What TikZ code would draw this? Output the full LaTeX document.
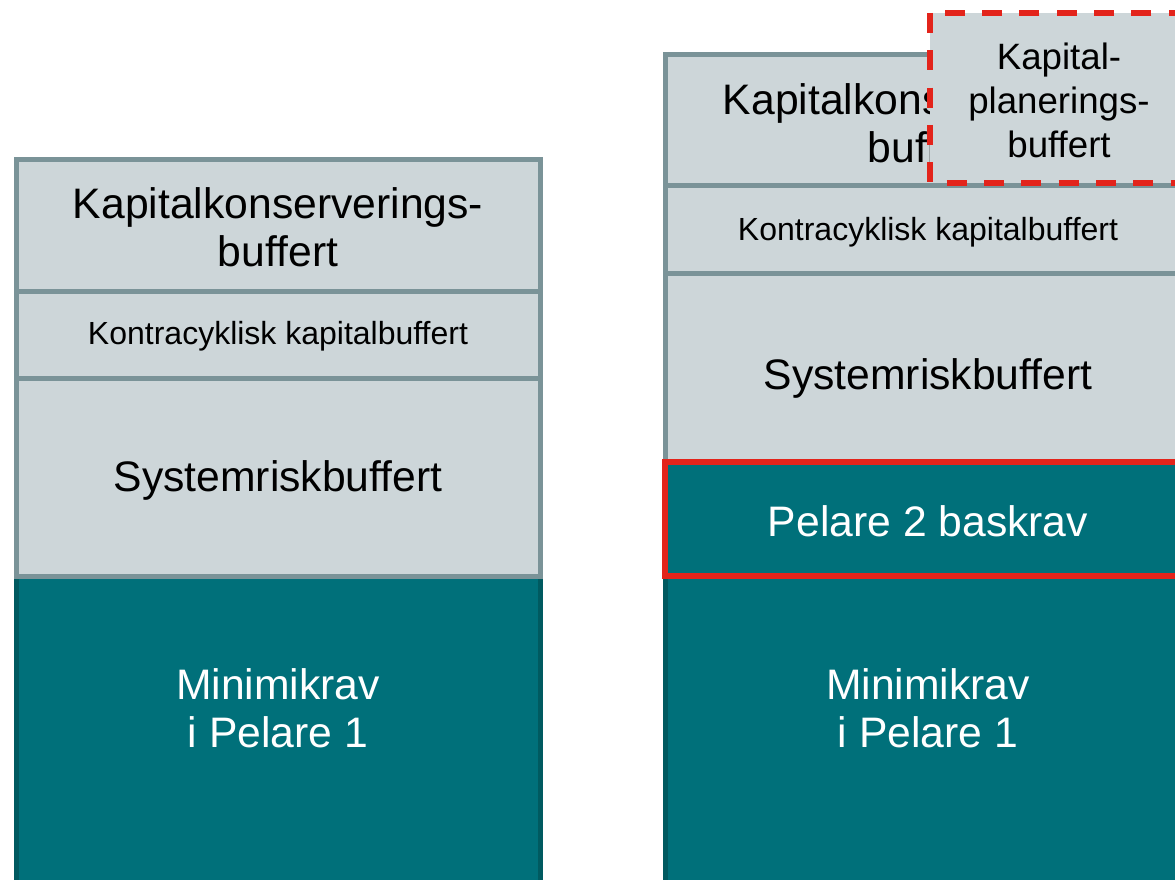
\documentclass[tikz,border=0pt]{standalone}
\usepackage{fontspec}
\setmainfont{Liberation Sans}
\definecolor{lightfill}{HTML}{CDD6D9}
\definecolor{lightline}{HTML}{7A9398}
\definecolor{darkfill}{HTML}{00707A}
\definecolor{darkline}{HTML}{005A60}
\definecolor{markred}{HTML}{E3241B}
\begin{document}
\begin{tikzpicture}[x=0.75pt,y=-0.75pt,
    lightbox/.style={draw=lightline,fill=lightfill,line width=3.75pt},
    darkbox/.style={draw=darkline,fill=darkfill,line width=3.75pt},
    redbox/.style={draw=markred,fill=darkfill,line width=4pt},
    planbox/.style={draw=markred,fill=lightfill,line width=4.5pt,dash pattern=on 15pt off 13pt},
    bigtext/.style={align=center,font=\fontsize{32}{36}\selectfont},
    smalltext/.style={align=center,font=\fontsize{24}{28}\selectfont},
    plantext/.style={align=center,font=\fontsize{27.5}{33}\selectfont}]
    \clip(0,0)rectangle(1175,880);
    \draw[darkbox](16,576)rectangle(540,900);
    \draw[lightbox](16,160)rectangle(540,292);
    \draw[lightbox](16,292)rectangle(540,379);
    \draw[lightbox](16,379)rectangle(540,576);
    \node[bigtext](kkbL)at(278,227){Kapitalkonserverings-\\buffert};
    \node[smalltext](kontraL)at(278,336){Kontracyklisk kapitalbuffert};
    \node[bigtext](sysL)at(278,480){Systemriskbuffert};
    \node[bigtext,text=white](minL)at(278,708){Minimikrav\\i Pelare 1};
    \draw[darkbox](665,576)rectangle(1191,900);
    \draw[lightbox](665,55)rectangle(1191,186);
    \draw[lightbox](665,186)rectangle(1191,274);
    \draw[lightbox](665,274)rectangle(1191,462);
    \draw[redbox](665,462)rectangle(1191,576);
    \node[bigtext](kkbR)at(928,123){Kapitalkonserverings-\\buffert};
    \node[smalltext](kontraR)at(928,232){Kontracyklisk kapitalbuffert};
    \node[bigtext](sysR)at(928,378){Systemriskbuffert};
    \node[bigtext,text=white](p2)at(928,521){Pelare 2 baskrav};
    \node[bigtext,text=white](minR)at(928,708){Minimikrav\\i Pelare 1};
    \draw[planbox](930,13)rectangle(1188,183);
    \node[plantext](plan)at(1059,100){Kapital-\\planerings-\\buffert};
\end{tikzpicture}
\end{document}
